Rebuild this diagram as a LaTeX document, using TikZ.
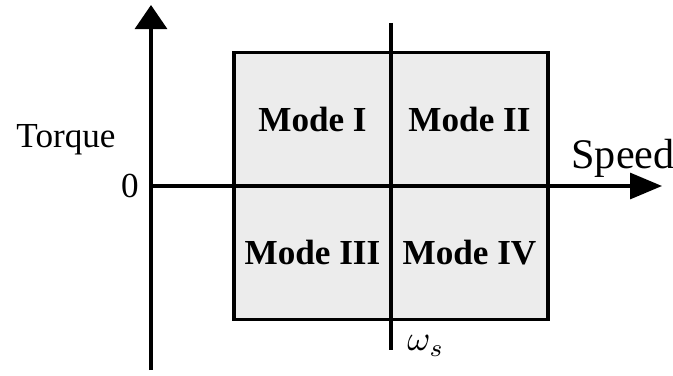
\documentclass[tikz,border=0pt]{standalone}
\usepackage{fontspec}
\setmainfont{Liberation Serif}
\usepackage{tikz}
\usetikzlibrary{arrows.meta, positioning}

\begin{document}
\begin{tikzpicture}[
    cell/.style={rectangle, draw=black, line width=1pt, fill=gray!15,
                 minimum width=1.57cm, minimum height=1.335cm,
                 inner sep=0pt, outer sep=0pt, font=\bfseries},
    axis/.style={line width=0.9pt},
    vtip/.style={-{Triangle[width=0.32cm, length=0.24cm]}},
    htip/.style={-{Triangle[width=0.26cm, length=0.32cm]}}]

\useasboundingbox (-1.51,-1.89) rectangle (5.22,1.86);

% Operating modes
\node (m1) [cell, anchor=south east] at (2.40,0) {Mode I};
\node (m2) [cell, right=0pt of m1] {Mode II};
\node (m3) [cell, below=0pt of m1]  {Mode III};
\node (m4) [cell, below=0pt of m2]  {Mode IV};

% Axes
\coordinate (o)    at (0,0);
\coordinate (ytop) at (0,1.81);
\coordinate (ybot) at (0,-1.84);
\coordinate (xend) at (5.11,0);
\draw [axis, vtip] (ybot) -- (ytop);
\draw [axis, htip] (o) -- (xend);

% Base speed line
\coordinate (wtop) at (2.40,1.63);
\coordinate (wbot) at (2.40,-1.64);
\draw [line width=1pt] (wtop) -- (wbot);

% Labels
\node (zero)   [left=0pt of o] {0};
\node (torque) at (-0.85,0.46) {Torque};
\node (speed)  at (4.72,0.28) {\large Speed};
\node (ws)     [anchor=west] at (2.44,-1.60) {$\omega_s$};
\end{tikzpicture}
\end{document}
